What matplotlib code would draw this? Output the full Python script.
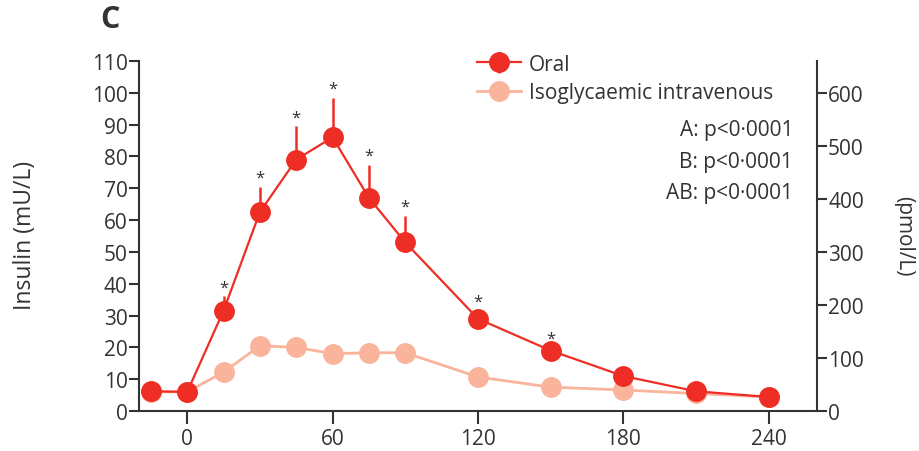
import matplotlib.pyplot as plt
import numpy as np

plt.rcParams['font.family'] = ['Open Sans', 'DejaVu Sans']

# time (min)
time = [-15, 0, 15, 30, 45, 60, 75, 90, 120, 150, 180, 210, 240]
# insulin (mU/L)
oral = [6.2, 6.0, 31.5, 62.5, 79, 86, 67, 53, 29, 19, 11, 6.2, 4.4]
oral_err = [0, 0, 4.5, 8, 10.5, 12.5, 10.3, 8.3, 2.5, 0.8, 0, 0, 0]
iv = [6.0, 6.0, 12.2, 20.5, 20, 18, 18.3, 18.3, 10.7, 7.5, 6.6, 5.5, 4.4]
star_idx = [2, 3, 4, 5, 6, 7, 8, 9]

c_oral = '#ee2d24'
c_iv = '#f9b49b'
txt = '#333333'

fig = plt.figure(figsize=(9.19, 4.52), dpi=100)
ax = fig.add_axes([0.151, 0.0885, 0.738, 0.7745])

ax.plot(time, iv, '-o', color=c_iv, lw=2, ms=14, zorder=2, label='Isoglycaemic intravenous')
ax.errorbar(time, oral, yerr=[np.zeros(len(oral)), oral_err], fmt='-o', color=c_oral,
            lw=1.6, ms=14, elinewidth=1.8, capsize=0, zorder=3, label='Oral')
for i in star_idx:
    ax.text(time[i], oral[i] + oral_err[i] + 0.3, '*', ha='center', va='bottom',
            fontsize=12, color=txt)

ax.set_xlim(-20, 260)
ax.set_ylim(0, 110)
ax.set_yticks(np.arange(0, 111, 10))
ax.set_xticks([0, 60, 120, 180, 240])
ax.spines['top'].set_visible(False)
ax.spines['right'].set_visible(False)
for s in ['left', 'bottom']:
    ax.spines[s].set_color(txt)
    ax.spines[s].set_linewidth(1.5)
ax.tick_params(axis='y', length=7, width=1.5, color=txt, labelcolor=txt, labelsize=15, pad=1)
ax.tick_params(axis='x', length=9, width=1.5, color=txt, labelcolor=txt, labelsize=15, pad=3)
ax.set_ylabel('Insulin (mU/L)', fontsize=16.5, color=txt)
ax.yaxis.set_label_coords(-0.150, 0.503)

sec = ax.secondary_yaxis('right', functions=(lambda v: v * 6, lambda v: v / 6))
sec.set_yticks(np.arange(0, 601, 100))
sec.spines['right'].set_color(txt)
sec.spines['right'].set_linewidth(1.5)
sec.tick_params(length=7, width=1.5, color=txt, labelcolor=txt, labelsize=15, pad=1)
fig.text(0.983, 0.478, '(pmol/L)', rotation=-90, ha='center', va='center', fontsize=15, color=txt)

h, l = ax.get_legend_handles_labels()
ax.legend(h[::-1], l[::-1], loc='upper left', bbox_to_anchor=(0.503, 0.9115), bbox_transform=fig.transFigure,
          frameon=False, fontsize=15, labelcolor=txt, handlelength=2.1, handletextpad=0.4,
          labelspacing=0.35, borderaxespad=0.3)

for k, s in enumerate(['A: p<0·0001', 'B: p<0·0001', 'AB: p<0·0001']):
    fig.text(0.863, 1 - (131 + 31.5 * k) / 452, s, ha='right', va='center', fontsize=15, color=txt)

fig.text(0.12, 0.955, 'C', fontsize=22, fontweight='bold', color=txt, ha='center', va='center')

fig.savefig('out.png', dpi=100)
